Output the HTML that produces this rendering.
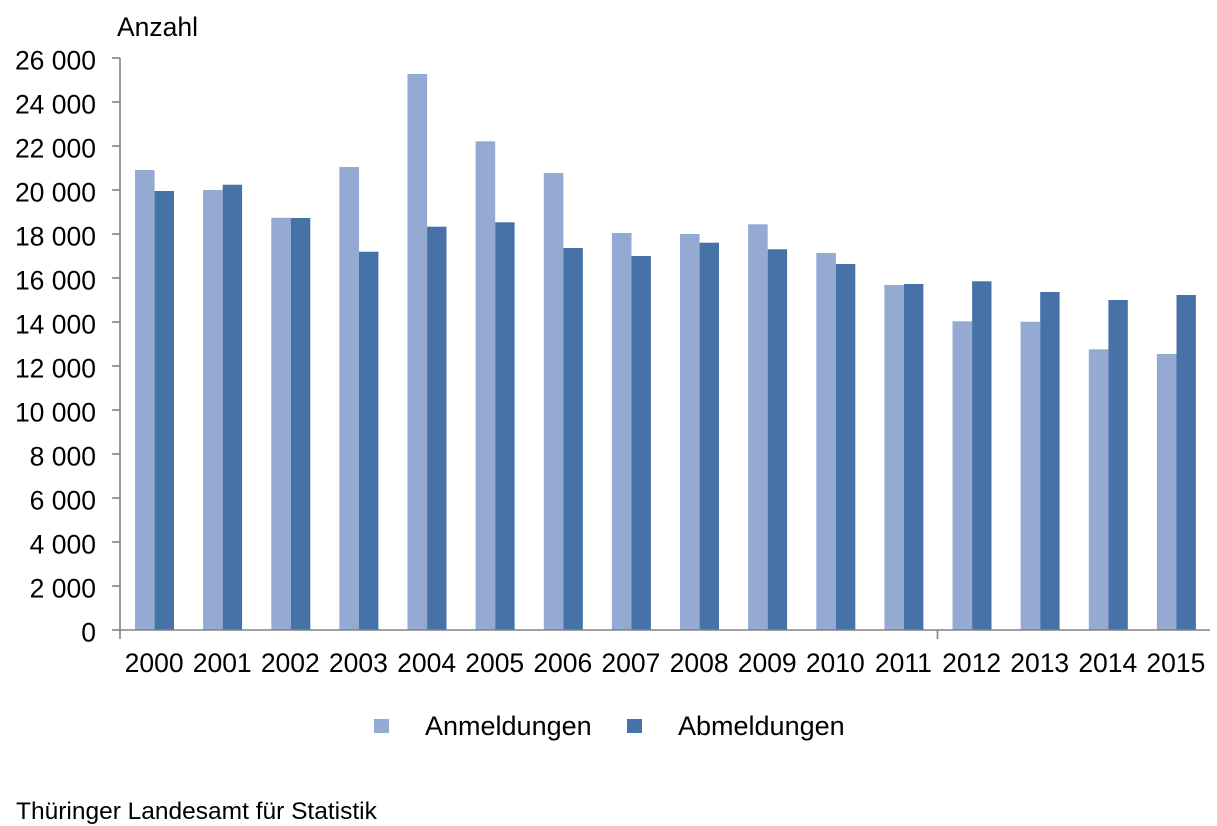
<!DOCTYPE html>
<html>
<head>
<meta charset="utf-8">
<style>
  html,body{margin:0;padding:0;background:#fff;}
  svg{display:block;}
  text{font-family:"Liberation Sans", Arial, sans-serif; fill:#000;}
</style>
</head>
<body>
<svg width="1217" height="826" viewBox="0 0 1217 826" xmlns="http://www.w3.org/2000/svg">
  <rect x="0" y="0" width="1217" height="826" fill="#fff"/>

  <!-- Y title -->
  <text x="117" y="36" font-size="26.5">Anzahl</text>

  <!-- Y tick labels -->
  <g font-size="26.5" text-anchor="end">
    <text x="96" y="69.5">26 000</text>
    <text x="96" y="113.5">24 000</text>
    <text x="96" y="157.5">22 000</text>
    <text x="96" y="201.5">20 000</text>
    <text x="96" y="245.5">18 000</text>
    <text x="96" y="289.5">16 000</text>
    <text x="96" y="333.5">14 000</text>
    <text x="96" y="377.5">12 000</text>
    <text x="96" y="421.5">10 000</text>
    <text x="96" y="465.5">8 000</text>
    <text x="96" y="509.5">6 000</text>
    <text x="96" y="553.5">4 000</text>
    <text x="96" y="597.5">2 000</text>
    <text x="96" y="641.5">0</text>
  </g>

  <!-- Bars -->
  <g>
    <!-- light: Anmeldungen ; dark: Abmeldungen -->
    <rect x="135"   y="170"   width="19.6" height="460"   fill="#94aad2"/>
    <rect x="154.6" y="191"   width="19.4" height="439"   fill="#4672a8"/>

    <rect x="203.1" y="190"   width="19.6" height="440"   fill="#94aad2"/>
    <rect x="222.7" y="184.7" width="19.4" height="445.3" fill="#4672a8"/>

    <rect x="271.3" y="217.7" width="19.6" height="412.3" fill="#94aad2"/>
    <rect x="290.9" y="218"   width="19.4" height="412"   fill="#4672a8"/>

    <rect x="339.4" y="167"   width="19.6" height="463"   fill="#94aad2"/>
    <rect x="359"   y="251.7" width="19.4" height="378.3" fill="#4672a8"/>

    <rect x="407.5" y="74"    width="19.6" height="556"   fill="#94aad2"/>
    <rect x="427.1" y="226.7" width="19.4" height="403.3" fill="#4672a8"/>

    <rect x="475.6" y="141.3" width="19.6" height="488.7" fill="#94aad2"/>
    <rect x="495.2" y="222.3" width="19.4" height="407.7" fill="#4672a8"/>

    <rect x="543.8" y="173"   width="19.6" height="457"   fill="#94aad2"/>
    <rect x="563.4" y="248"   width="19.4" height="382"   fill="#4672a8"/>

    <rect x="611.9" y="233"   width="19.6" height="397"   fill="#94aad2"/>
    <rect x="631.5" y="256"   width="19.4" height="374"   fill="#4672a8"/>

    <rect x="680"   y="234"   width="19.6" height="396"   fill="#94aad2"/>
    <rect x="699.6" y="242.7" width="19.4" height="387.3" fill="#4672a8"/>

    <rect x="748.1" y="224.3" width="19.6" height="405.7" fill="#94aad2"/>
    <rect x="767.7" y="249.3" width="19.4" height="380.7" fill="#4672a8"/>

    <rect x="816.3" y="253"   width="19.6" height="377"   fill="#94aad2"/>
    <rect x="835.9" y="264"   width="19.4" height="366"   fill="#4672a8"/>

    <rect x="884.4" y="285"   width="19.6" height="345"   fill="#94aad2"/>
    <rect x="904"   y="284"   width="19.4" height="346"   fill="#4672a8"/>

    <rect x="952.5" y="321.3" width="19.6" height="308.7" fill="#94aad2"/>
    <rect x="972.1" y="281.3" width="19.4" height="348.7" fill="#4672a8"/>

    <rect x="1020.6" y="321.7" width="19.6" height="308.3" fill="#94aad2"/>
    <rect x="1040.2" y="292"   width="19.4" height="338"   fill="#4672a8"/>

    <rect x="1088.8" y="349.3" width="19.6" height="280.7" fill="#94aad2"/>
    <rect x="1108.4" y="300"   width="19.4" height="330"   fill="#4672a8"/>

    <rect x="1156.9" y="354"   width="19.6" height="276"   fill="#94aad2"/>
    <rect x="1176.5" y="295"   width="19.4" height="335"   fill="#4672a8"/>
  </g>

  <!-- Axes -->
  <g stroke="#828282" stroke-width="1.6" fill="none">
    <line x1="120" y1="58" x2="120" y2="639"/>
    <line x1="119.2" y1="630" x2="1210" y2="630"/>
    <line x1="937.5" y1="630" x2="937.5" y2="639"/>
    <line x1="112" y1="58" x2="120" y2="58"/>
    <line x1="112" y1="102" x2="120" y2="102"/>
    <line x1="112" y1="146" x2="120" y2="146"/>
    <line x1="112" y1="190" x2="120" y2="190"/>
    <line x1="112" y1="234" x2="120" y2="234"/>
    <line x1="112" y1="278" x2="120" y2="278"/>
    <line x1="112" y1="322" x2="120" y2="322"/>
    <line x1="112" y1="366" x2="120" y2="366"/>
    <line x1="112" y1="410" x2="120" y2="410"/>
    <line x1="112" y1="454" x2="120" y2="454"/>
    <line x1="112" y1="498" x2="120" y2="498"/>
    <line x1="112" y1="542" x2="120" y2="542"/>
    <line x1="112" y1="586" x2="120" y2="586"/>
    <line x1="112" y1="630" x2="120" y2="630"/>
  </g>

  <!-- X labels -->
  <g font-size="26.5" text-anchor="middle">
    <text x="154.1" y="672">2000</text>
    <text x="222.2" y="672">2001</text>
    <text x="290.3" y="672">2002</text>
    <text x="358.4" y="672">2003</text>
    <text x="426.6" y="672">2004</text>
    <text x="494.7" y="672">2005</text>
    <text x="562.8" y="672">2006</text>
    <text x="630.9" y="672">2007</text>
    <text x="699.1" y="672">2008</text>
    <text x="767.2" y="672">2009</text>
    <text x="835.3" y="672">2010</text>
    <text x="903.4" y="672">2011</text>
    <text x="971.6" y="672">2012</text>
    <text x="1039.7" y="672">2013</text>
    <text x="1107.8" y="672">2014</text>
    <text x="1175.9" y="672">2015</text>
  </g>

  <!-- Legend -->
  <rect x="374" y="719" width="15" height="14" fill="#94aad2"/>
  <text x="425" y="735" font-size="27">Anmeldungen</text>
  <rect x="627" y="719" width="15" height="14" fill="#4672a8"/>
  <text x="678" y="735" font-size="27">Abmeldungen</text>

  <!-- Source -->
  <text x="16" y="819" font-size="24.5">Thüringer Landesamt für Statistik</text>
</svg>
</body>
</html>
